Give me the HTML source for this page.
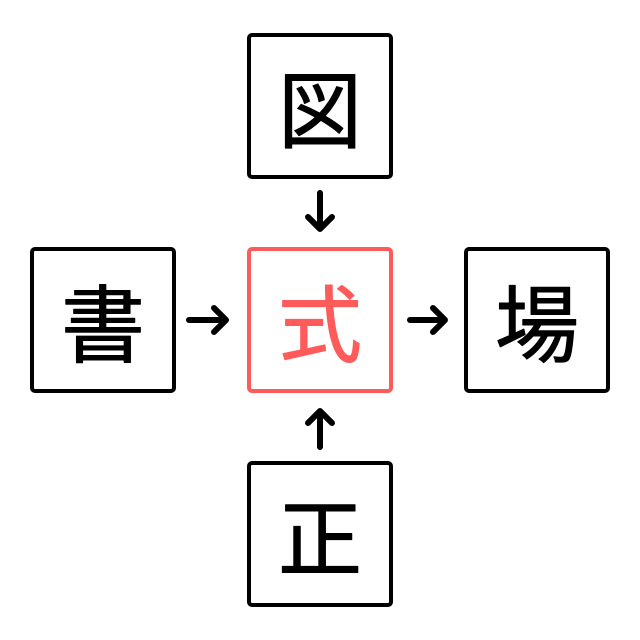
<!DOCTYPE html>
<html><head><meta charset="utf-8"><style>html,body{margin:0;padding:0;background:#fff}svg{display:block}</style></head>
<body>
<svg width="640" height="640" viewBox="0 0 640 640" xmlns="http://www.w3.org/2000/svg">
<g fill="none" stroke-width="4" stroke-linecap="round" stroke-linejoin="round">
<rect x="249" y="35" width="142" height="142" rx="3" stroke="#000"/>
<rect x="32" y="249" width="142" height="142" rx="3" stroke="#000"/>
<rect x="249" y="249" width="142" height="142" rx="3" stroke="#ff5b5b"/>
<rect x="466" y="249" width="142" height="142" rx="3" stroke="#000"/>
<rect x="249" y="463" width="142" height="142" rx="3" stroke="#000"/>
<g stroke="#000" stroke-width="6">
<path d="M320 193V229M308 217L320 229L332 217"/>
<path d="M189 320H226M214 308L226 320L214 332"/>
<path d="M410 320H445M433 308L445 320L433 332"/>
<path d="M320 447V411M308 423L320 411L332 423"/>
</g>
</g>
<g font-family="'Noto Sans CJK JP','Noto Sans CJK SC',sans-serif" font-size="84" text-anchor="middle" dominant-baseline="central" stroke-width="1" stroke-linejoin="round" stroke-linecap="round">
<text x="320" y="106" stroke="#000">図</text>
<text x="103" y="320" stroke="#000">書</text>
<text x="320" y="320" fill="#ff5b5b" stroke="#ff5b5b">式</text>
<text x="537" y="320" stroke="#000">場</text>
<text x="320" y="534" stroke="#000">正</text>
</g>
</svg>
</body></html>
